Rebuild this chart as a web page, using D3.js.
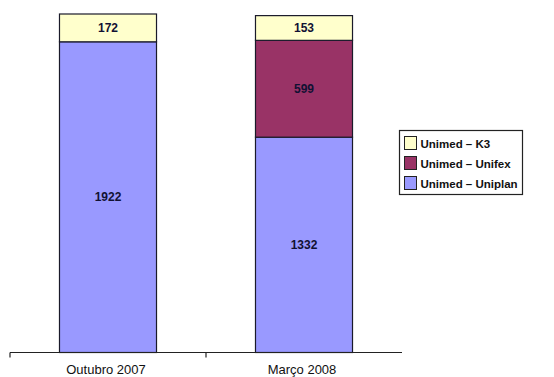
<!DOCTYPE html>
<html>
<head>
<meta charset="utf-8">
<script src="https://cdn.jsdelivr.net/npm/d3@7"></script>
<style>
  html, body { margin: 0; padding: 0; background: #fff; }
  svg { display: block; font-family: "Liberation Sans", Arial, sans-serif; }
</style>
</head>
<body>
<svg id="chart" width="554" height="377"></svg>
<script>
// Beneficiaries per operator, two reference months
const categories = ["Outubro 2007", "Março 2008"];
const seriesNames = ["Unimed – Uniplan", "Unimed – Unifex", "Unimed – K3"];
const uniplan = [1922, 1332];
const unifex = [0, 599];
const k3 = [172, 153];
const colors = ["#9999FF", "#993366", "#FFFFCC"];

const svg = d3.select("#chart");

const rows = categories.map((c, i) => ({
  cat: c,
  "Unimed – Uniplan": uniplan[i],
  "Unimed – Unifex": unifex[i],
  "Unimed – K3": k3[i]
}));

const stack = d3.stack().keys(seriesNames)(rows);

const x = d3.scaleBand().domain(categories).range([10, 402]).padding(0);
const y = d3.scaleLinear().domain([0, 2094]).range([352.5, 14]);
const color = d3.scaleOrdinal().domain(seriesNames).range(colors);

const barW = x.bandwidth() * 0.495;

// Stacked bars
const layers = svg.append("g").selectAll("g")
  .data(stack)
  .join("g")
  .attr("fill", d => color(d.key));

layers.selectAll("rect")
  .data(d => d.filter(s => s[1] - s[0] > 0))
  .join("rect")
  .attr("x", d => x(d.data.cat) + (x.bandwidth() - barW) / 2)
  .attr("width", barW)
  .attr("y", d => y(d[1]))
  .attr("height", d => y(d[0]) - y(d[1]))
  .attr("stroke", "#1a1a2a")
  .attr("stroke-width", 1.2);

// Value labels in the middle of each segment
layers.selectAll("text")
  .data(d => d.filter(s => s[1] - s[0] > 0))
  .join("text")
  .attr("x", d => x(d.data.cat) + x.bandwidth() / 2)
  .attr("y", d => (y(d[0]) + y(d[1])) / 2)
  .attr("dy", "0.35em")
  .attr("text-anchor", "middle")
  .attr("font-size", 12)
  .attr("font-weight", "bold")
  .attr("fill", "#111133")
  .text(d => d[1] - d[0]);

// Category axis: baseline with ticks on band boundaries
const axis = svg.append("g");
axis.append("line")
  .attr("x1", x.range()[0]).attr("x2", x.range()[1])
  .attr("y1", y(0)).attr("y2", y(0))
  .attr("stroke", "#222").attr("stroke-width", 1.2);
axis.selectAll("line.tick")
  .data(categories)
  .join("line")
  .attr("class", "tick")
  .attr("x1", d => x(d)).attr("x2", d => x(d))
  .attr("y1", y(0)).attr("y2", y(0) + 5)
  .attr("stroke", "#222").attr("stroke-width", 1.2);
axis.selectAll("text")
  .data(categories)
  .join("text")
  .attr("x", d => x(d) + x.bandwidth() / 2 - 2)
  .attr("y", y(0) + 21)
  .attr("text-anchor", "middle")
  .attr("font-size", 13)
  .attr("fill", "#111")
  .text(d => d);

// Legend (top series first)
const legend = svg.append("g").attr("transform", "translate(399.5,130.5)");
legend.append("rect")
  .attr("width", 123).attr("height", 64)
  .attr("fill", "#fff").attr("stroke", "#222").attr("stroke-width", 1.2);
const legendOrder = seriesNames.slice().reverse();
const items = legend.selectAll("g.item")
  .data(legendOrder)
  .join("g")
  .attr("class", "item")
  .attr("transform", (d, i) => `translate(5,${6 + i * 20})`);
items.append("rect")
  .attr("width", 12).attr("height", 13)
  .attr("fill", d => color(d))
  .attr("stroke", "#222").attr("stroke-width", 1);
items.append("text")
  .attr("x", 16).attr("y", 7)
  .attr("dy", "0.35em")
  .attr("font-size", 11.5)
  .attr("font-weight", "bold")
  .attr("fill", "#111")
  .text(d => d);
</script>
</body>
</html>
